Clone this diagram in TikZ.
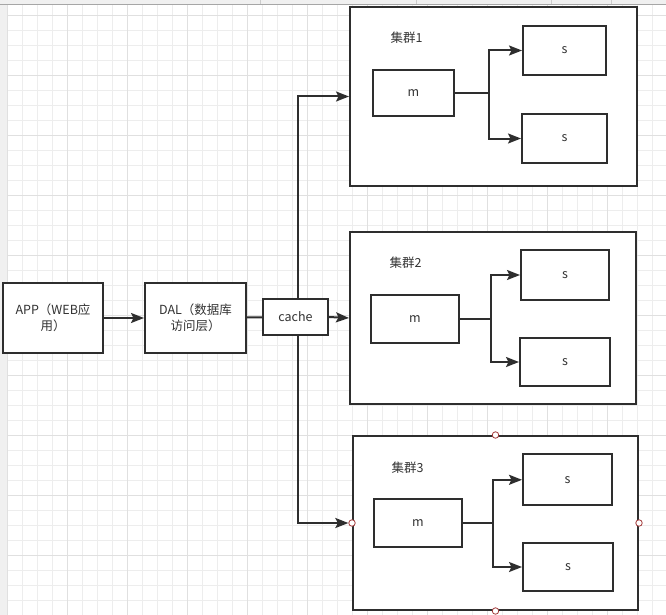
\documentclass[tikz,border=0pt]{standalone}
\usepackage{fontspec}
\setmainfont{Noto Sans CJK SC}
\usepackage{tikz}
\usetikzlibrary{arrows.meta}
\definecolor{gridminor}{HTML}{EDEDED}
\definecolor{gridmajor}{HTML}{E0E0E0}
\definecolor{panel}{HTML}{F0F0F0}
\definecolor{ink}{HTML}{2E2E2E}
\definecolor{txt}{HTML}{333333}
\definecolor{handle}{HTML}{A33A3A}
\tikzset{
    box/.style={draw=ink, line width=2pt, fill=white, inner sep=0pt, text=txt,
        font=\fontsize{12.5}{16}\selectfont, align=center},
    label/.style={text=txt, inner sep=0pt, font=\fontsize{12.5}{16}\selectfont},
    link/.style={draw=ink, line width=2pt},
    arr/.style={link, -{Stealth[length=13pt, width=10pt, inset=2.5pt]}},
    grip/.style={circle, draw=handle, fill=white, line width=0.8pt,
        minimum size=6.5pt, inner sep=0pt},
}

\begin{document}
\begin{tikzpicture}[x=1pt, y=-1pt]
\useasboundingbox (0,0) rectangle (666,615);
\fill[white] (0,0) rectangle (666,615);
\begin{scope}[shift={(7.3,15)}]
\draw[step=15pt, gridminor, line width=0.8pt] (0,-15) grid (660,600);
\draw[step=60pt, gridmajor, line width=0.8pt] (0,-15) grid (660,600);
\end{scope}
\fill[panel] (0,0) rectangle (7.3,615);
\fill[panel] (0,0) rectangle (666,4.3);
\draw[black!35, line width=0.8pt] (0,4.5) -- (666,4.5);
\foreach \t in {260.7,416.7,551.7,611.7}
    \draw[black!20, line width=0.8pt] (\t,0) -- (\t,4.3);

\node[box, minimum width=100pt, minimum height=70pt] (app) at (53,318) {APP（WEB应\\用）};
\node[box, minimum width=101pt, minimum height=70pt] (dal) at (195.5,318) {DAL（数据库\\访问层）};
\node[box, minimum width=65pt, minimum height=36pt] (cache) at (295.5,317) {cache};

\node[box, minimum width=287pt, minimum height=179pt] (c1) at (493.5,96.5) {};
\node[label] (l1) at (406.7,37.7) {集群1};
\node[box, minimum width=81pt, minimum height=46pt] (m1) at (413.5,93) {m};
\node[box, minimum width=83pt, minimum height=49pt] (s1a) at (564.5,50.5) {s};
\node[box, minimum width=85pt, minimum height=49pt] (s1b) at (564.5,138.5) {s};

\node[box, minimum width=286pt, minimum height=172pt] (c2) at (493,318) {};
\node[label] (l2) at (405.7,262.3) {集群2};
\node[box, minimum width=88pt, minimum height=48pt] (m2) at (415,318.7) {m};
\node[box, minimum width=88pt, minimum height=50pt] (s2a) at (565,275) {s};
\node[box, minimum width=90pt, minimum height=48pt] (s2b) at (565,362) {s};

\node[box, minimum width=285pt, minimum height=174pt] (c3) at (495.5,523) {};
\node[label] (l3) at (407.7,467.7) {集群3};
\node[box, minimum width=88pt, minimum height=48pt] (m3) at (418,523) {m};
\node[box, minimum width=89pt, minimum height=51pt] (s3a) at (567.5,479.8) {s};
\node[box, minimum width=90pt, minimum height=48pt] (s3b) at (568,567) {s};

\node[grip] (g3n) at (c3.north) {};
\node[grip] (g3w) at (c3.west) {};
\node[grip] (g3e) at (c3.east) {};
\node[grip] (g3s) at (c3.south) {};

\draw[arr] (app) -- (dal);
\draw[link] (dal) -- (cache);
\draw[arr] (cache.east) -- (c2.west);
\draw[arr] ([xshift=2pt]cache.north) |- (c1.west);
\draw[arr] ([xshift=2pt]cache.south) |- (g3w.west);

\draw[arr] (m1.east) -- ++(34,0) |- (s1a.west);
\draw[arr] (m1.east) -- ++(34,0) |- (s1b.west);
\draw[arr] (m2.east) -- ++(31,0) |- (s2a.west);
\draw[arr] (m2.east) -- ++(31,0) |- (s2b.west);
\draw[arr] (m3.east) -- ++(30,0) |- (s3a.west);
\draw[arr] (m3.east) -- ++(30,0) |- (s3b.west);
\end{tikzpicture}
\end{document}
